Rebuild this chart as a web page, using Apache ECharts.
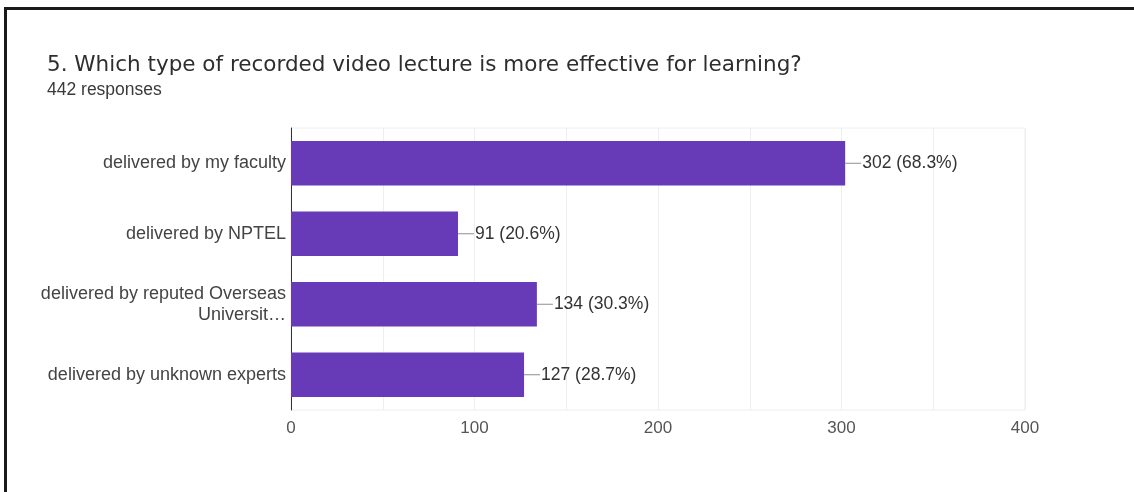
<!DOCTYPE html>
<html><head><meta charset="utf-8">
<script src="https://cdn.jsdelivr.net/npm/echarts@6/dist/echarts.min.js"></script>
<style>
html,body{margin:0;padding:0;background:#fff;}
#c{width:1134px;height:492px;position:absolute;left:0;top:0;}
#frame{position:absolute;left:4px;top:7px;width:1130px;height:485px;border-top:3px solid #1a1a1a;border-left:3px solid #1a1a1a;box-sizing:border-box;pointer-events:none;}
</style></head>
<body>
<div id="c"></div>
<div id="frame"></div>
<script>
const titleText = '5. Which type of recorded video lecture is more effective for learning?';
const subtitleText = '442 responses';
const categories = ['delivered by my faculty', 'delivered by NPTEL', 'delivered by reputed Overseas\nUniversit\u2026', 'delivered by unknown experts'];
const counts = [302, 91, 134, 127];
const percents = ['68.3%', '20.6%', '30.3%', '28.7%'];
const axisMin = 0, axisMax = 400, axisStep = 50;

const chart = echarts.init(document.getElementById('c'), null, {renderer: 'canvas'});
chart.setOption({
  animation: false,
  backgroundColor: '#fff',
  title: {
    text: titleText, subtext: subtitleText, left: 42, top: 49, itemGap: 5,
    textStyle: {fontFamily: 'DejaVu Sans', fontSize: 21.5, fontWeight: 'normal', color: '#2e2e2e'},
    subtextStyle: {fontFamily: 'Liberation Sans', fontSize: 17.5, color: '#3a3a3a'}
  },
  grid: {left: 291, right: 109, top: 128, bottom: 82, show: true, borderColor: '#eeeeee', borderWidth: 1},
  xAxis: {
    type: 'value', min: axisMin, max: axisMax, interval: axisStep,
    axisLine: {show: false}, axisTick: {show: false},
    splitLine: {lineStyle: {color: '#eeeeee'}},
    axisLabel: {fontFamily: 'Liberation Sans', fontSize: 17, color: '#555', margin: 10,
      formatter: v => (v % 100 === 0 ? String(v) : '')}
  },
  yAxis: {
    type: 'category', data: categories, inverse: true,
    axisLine: {show: true, lineStyle: {color: '#333', width: 1}},
    axisTick: {show: false},
    axisLabel: {fontFamily: 'Liberation Sans', fontSize: 18, color: '#444', margin: 5, lineHeight: 21, align: 'right'}
  },
  series: [{
    type: 'bar', data: counts, barWidth: '63%',
    itemStyle: {color: '#673ab7'},
    label: {
      show: true, position: 'right', distance: 0,
      formatter: p => '{l|}{t|' + counts[p.dataIndex] + ' (' + percents[p.dataIndex] + ')}',
      rich: {
        l: {width: 16, height: 1, backgroundColor: '#8e8e8e'},
        t: {fontFamily: 'Liberation Sans', fontSize: 17.5, color: '#333', padding: [0, 0, 0, 1]}
      }
    }
  }]
});
</script>
</body></html>
